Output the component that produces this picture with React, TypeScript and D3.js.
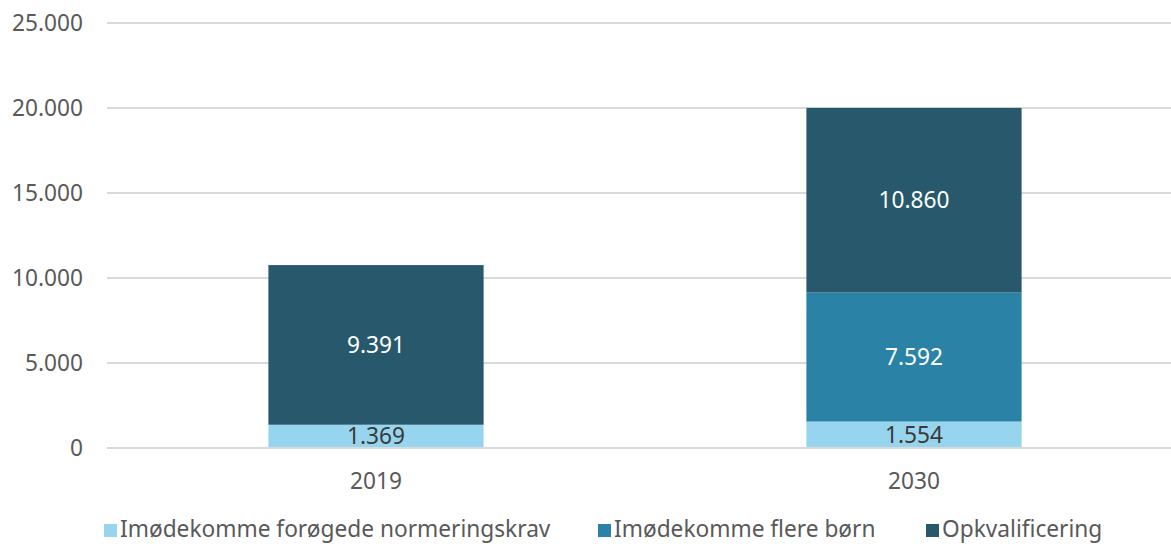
import React from "react";
import * as d3 from "d3";

const categories = ["2019", "2030"];
const seriesNames = ["Imødekomme forøgede normeringskrav", "Imødekomme flere børn", "Opkvalificering"];
const normering = [1369, 1554];
const flereBorn = [0, 7592];
const opkval = [9391, 10860];
const yTicks = [0, 5000, 10000, 15000, 20000, 25000];
const colors = ["#97d5ef", "#2a83a6", "#27586c"];
const labelColors = ["#3a3a3a", "#ffffff", "#ffffff"];

const W = 1171;
const H = 544;
const FONT = "'Noto Sans', sans-serif";
const FS = 22.7;

const fmt = (v: number) => d3.format(",")(v).replace(/,/g, ".");

export default function App() {
  const x = d3.scaleBand<string>().domain(categories).range([107, 1183]).paddingInner(0.6).paddingOuter(0.3);
  const y = d3.scaleLinear().domain([0, 25000]).range([448, 23]);

  const rows = categories.map((c, i) => ({ cat: c, s0: normering[i], s1: flereBorn[i], s2: opkval[i] }));
  const stack = d3.stack<any>().keys(["s0", "s1", "s2"])(rows);

  const legendX = [104, 598, 926];

  return (
    <svg width={W} height={H} style={{ position: "absolute", left: 0, top: 0, fontFamily: FONT }}>
      <rect x={0} y={0} width={W} height={H} fill="#ffffff" />
      {yTicks.map((t) => (
        <g key={t}>
          <line x1={107} x2={W} y1={y(t)} y2={y(t)} stroke="#d9d9d9" strokeWidth={2} />
          <text x={83} y={y(t)} dy="0.35em" textAnchor="end" fontSize={FS} fill="#595959">
            {fmt(t)}
          </text>
        </g>
      ))}
      {stack.map((layer, si) =>
        layer.map((d, i) => {
          const v = d[1] - d[0];
          if (v <= 0) return null;
          const x0 = x(categories[i])!;
          return (
            <g key={si + "-" + i}>
              <rect x={x0} width={x.bandwidth()} y={y(d[1])} height={y(d[0]) - y(d[1])} fill={colors[si]} />
              <text
                x={x0 + x.bandwidth() / 2}
                y={(y(d[0]) + y(d[1])) / 2}
                dy="0.35em"
                textAnchor="middle"
                fontSize={FS}
                fill={labelColors[si]}
              >
                {fmt(v)}
              </text>
            </g>
          );
        })
      )}
      <line x1={107} x2={W} y1={y(0)} y2={y(0)} stroke="#d9d9d9" strokeWidth={2} />
      {categories.map((c) => (
        <text key={c} x={x(c)! + x.bandwidth() / 2} y={481} dy="0.35em" textAnchor="middle" fontSize={FS} fill="#595959">
          {c}
        </text>
      ))}
      {seriesNames.map((n, i) => (
        <g key={n}>
          <rect x={legendX[i]} y={524} width={13} height={13} fill={colors[i]} />
          <text x={legendX[i] + 16} y={529} dy="0.35em" fontSize={FS} fill="#595959">
            {n}
          </text>
        </g>
      ))}
    </svg>
  );
}
